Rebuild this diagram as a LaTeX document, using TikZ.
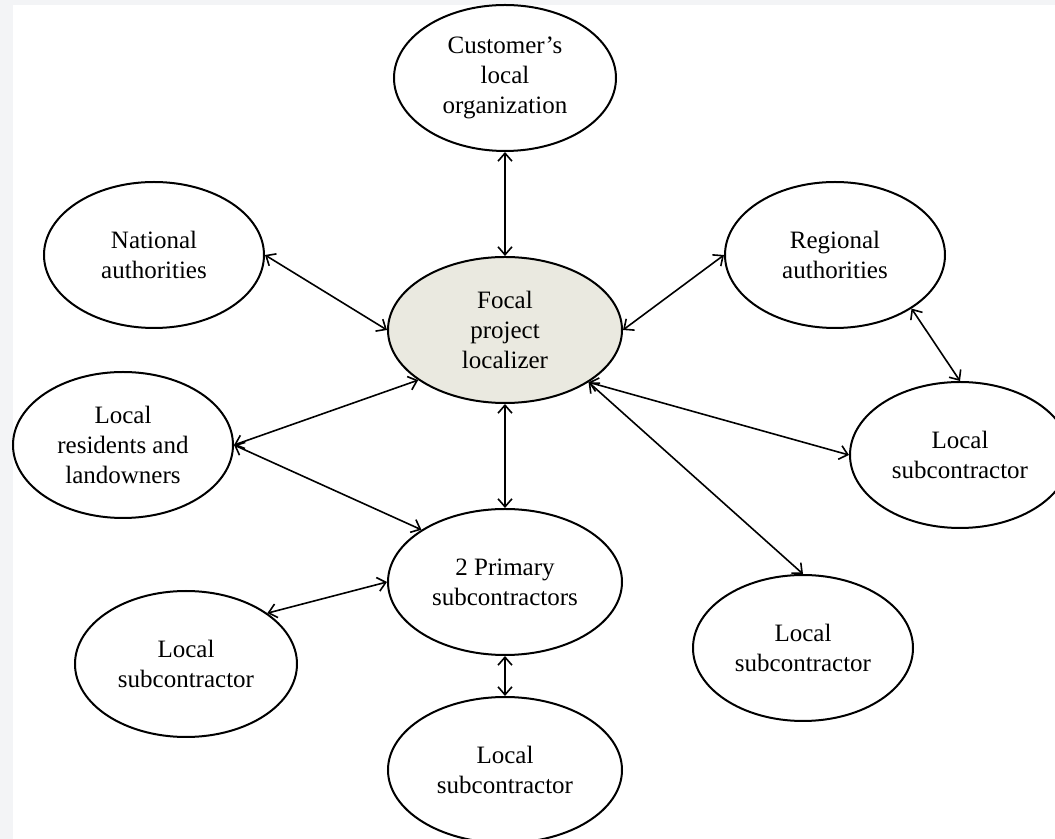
\documentclass[tikz,border=0pt]{standalone}
\usepackage{fontspec}
\setmainfont{Liberation Serif}
\usetikzlibrary{shapes.geometric, arrows.meta, positioning}
\definecolor{focalfill}{HTML}{EAE9E0}
\definecolor{pagegray}{HTML}{F3F4F6}
\tikzstyle{oval} = [ellipse, minimum width=110pt, minimum height=73pt, inner sep=1pt, text centered, align=center, draw=black, line width=1pt, fill=white, font=\fontsize{12.5}{15}\selectfont]
\tikzstyle{oval2} = [oval, minimum width=117pt]
\tikzstyle{arrow} = [line width=0.8pt, <->, >={Straight Barb[length=4pt,width=7pt]}]

\begin{document}
\begin{tikzpicture}[node distance=126pt]
    \useasboundingbox (-252.5pt,-254.5pt) rectangle (275pt,165pt);
    \fill[pagegray] (-252.5pt,-254.5pt) rectangle (275pt,165pt);
    \fill[white] (-246pt,-254.5pt) rectangle (275pt,162.5pt);

    \node (focal) [oval2, fill=focalfill] {Focal\\project\\localizer};
    \node (cust) [oval, minimum width=111pt, above of=focal] {Customer's\\local\\organization};
    \node (primary) [oval2, below of=focal] {2 Primary\\subcontractors};
    \node (bsub) [oval2, below of=primary, yshift=32pt] {Local\\subcontractor};
    \node (national) [oval] at (-175.5pt,37.5pt) {National\\authorities};
    \node (regional) [oval] at (165pt,37.5pt) {Regional\\authorities};
    \node (residents) [oval] at (-191pt,-57.5pt) {Local\\residents and\\landowners};
    \node (rsub) [oval] at (227.5pt,-62.5pt) {Local\\subcontractor};
    \node (blsub) [oval, minimum width=111pt] at (-159.5pt,-167pt) {Local\\subcontractor};
    \node (brsub) [oval] at (149pt,-159pt) {Local\\subcontractor};

    \draw[arrow] (cust) -- (focal);
    \draw[arrow] (national.east) -- (focal.west);
    \draw[arrow] (regional.west) -- (focal.east);
    \draw[arrow] (regional.-35) -- (rsub.north);
    \draw[arrow] (focal.-32) -- (rsub.west);
    \draw[arrow] (focal.-32) -- (brsub.north);
    \draw[arrow] (focal.210) -- (residents.east);
    \draw[arrow] (residents.east) -- (primary.148);
    \draw[arrow] (focal) -- (primary);
    \draw[arrow] (primary.west) -- (blsub.32);
    \draw[arrow] (primary) -- (bsub);

\end{tikzpicture}
\end{document}
